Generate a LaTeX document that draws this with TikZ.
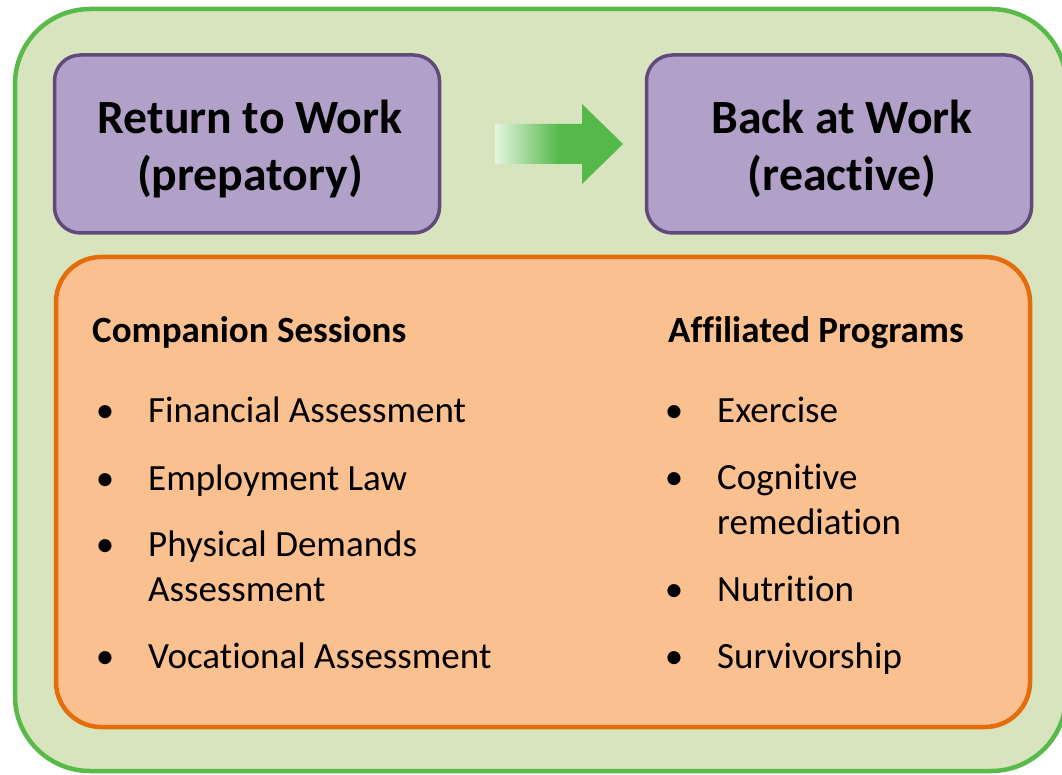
\documentclass[tikz,border=0pt]{standalone}
\usepackage{fontspec}
\setmainfont{Carlito}[Ligatures=NoCommon]
\usepackage{xcolor}
\usepackage{tikz}
\usetikzlibrary{positioning}
\colorlet{outerfill}{rgb,255:red,216;green,228;blue,189}
\colorlet{outerline}{rgb,255:red,88;green,186;blue,72}
\colorlet{workfill}{rgb,255:red,177;green,160;blue,199}
\colorlet{workline}{rgb,255:red,96;green,74;blue,123}
\colorlet{listfill}{rgb,255:red,250;green,192;blue,144}
\colorlet{listline}{rgb,255:red,228;green,108;blue,10}
\colorlet{fadelight}{rgb,255:red,228;green,245;blue,224}
\colorlet{arrowgreen}{rgb,255:red,85;green,185;blue,74}
\pgfdeclarehorizontalshading{arrowfade}{100bp}{color(0bp)=(fadelight); color(25bp)=(fadelight); color(50bp)=(arrowgreen); color(100bp)=(arrowgreen)}
\tikzstyle{outerbox}=[draw=outerline,fill=outerfill,line width=4.5pt,rounded corners=75pt]
\tikzstyle{workbox}=[draw=workline,fill=workfill,line width=3.5pt,rounded corners=26pt,
  minimum width=385pt,minimum height=178pt]
\tikzstyle{worktitle}=[anchor=base,inner sep=0pt,font=\fontsize{47.7}{57}\selectfont\bfseries]
\tikzstyle{listbox}=[draw=listline,fill=listfill,line width=4.5pt,rounded corners=45pt]
\tikzstyle{head}=[anchor=base west,inner sep=0pt,font=\fontsize{37}{44}\selectfont\bfseries]
\tikzstyle{item}=[anchor=base west,inner sep=0pt,font=\fontsize{37}{44}\selectfont]
\tikzstyle{dot}=[anchor=base,inner sep=0pt,font=\fontsize{37}{44}\selectfont]
\begin{document}
\begin{tikzpicture}[x=1pt,y=-1pt]
\useasboundingbox (0,0) rectangle (1062,775);
% background panel
\draw[outerbox] (15,9) rectangle (1066,771);
\node[workbox] (rtw) at (247,144) {};
\node[workbox] (baw) at (839,144) {};
\node[worktitle] (rtw1) at (250,134) {Return to Work};
\node[worktitle] (rtw2) at (250,191) {(prepatory)};
\node[worktitle] (baw1) at (842,134) {Back at Work};
\node[worktitle] (baw2) at (842,191) {(reactive)};
\shade[shading=arrowfade] (495,124) -- (582,124) -- (582,104) -- (623,144)
  -- (582,184) -- (582,164) -- (495,164) -- cycle;
\draw[listbox] (56,257) rectangle (1030,727);
% left column
\node[head] (cs) at (92,342) {Companion Sessions};
\node[dot] at (105,422) {•};
\node[item] (fa) at (148,422) {Financial Assessment};
\node[dot] at (105,490) {•};
\node[item] (el) at (148,490) {Employment Law};
\node[dot] at (105,556) {•};
\node[item] (pd) at (148,556) {Physical Demands};
\node[item] (pd2) at (148,601) {Assessment};
\node[dot] at (105,668) {•};
\node[item] (va) at (148,668) {Vocational Assessment};
% right column
\node[head] (ap) at (668,342) {Affiliated Programs};
\node[dot] at (674,422) {•};
\node[item] (ex) at (717,422) {Exercise};
\node[dot] at (674,489) {•};
\node[item] (cr) at (717,489) {Cognitive};
\node[item] (cr2) at (717,534) {remediation};
\node[dot] at (674,601) {•};
\node[item] (nu) at (717,601) {Nutrition};
\node[dot] at (674,668) {•};
\node[item] (su) at (717,668) {Survivorship};
\end{tikzpicture}
\end{document}
